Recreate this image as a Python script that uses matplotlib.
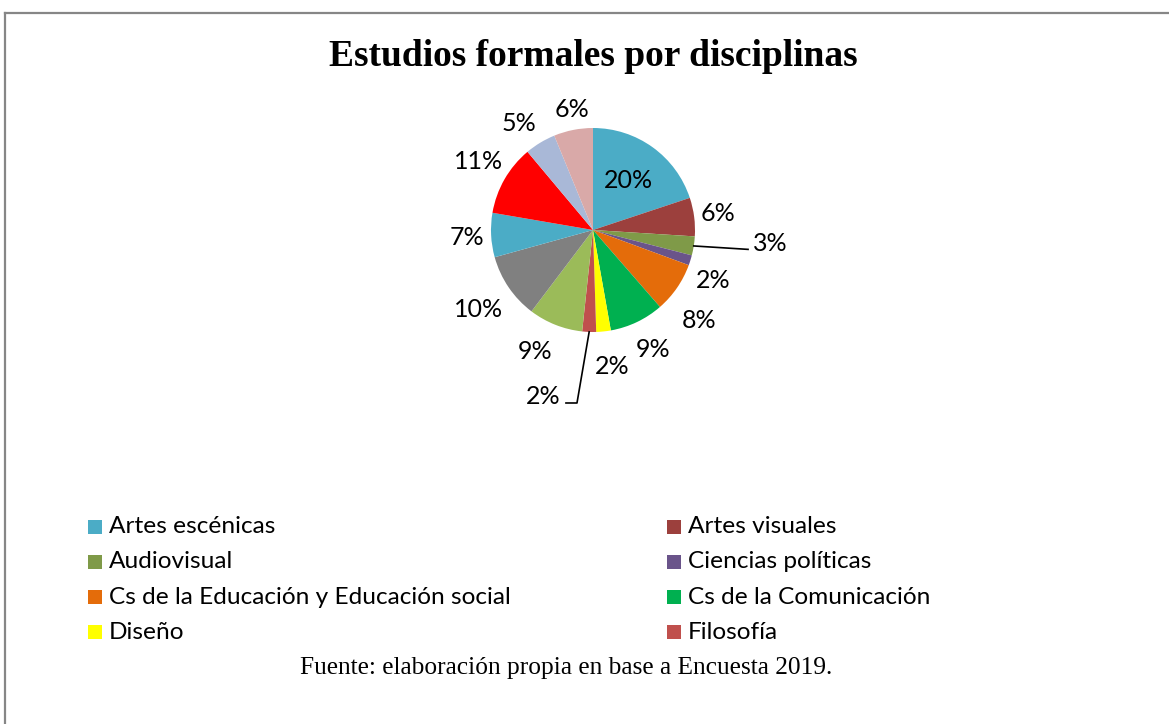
import numpy as np
import matplotlib.pyplot as plt
from matplotlib.patches import Rectangle
from matplotlib.lines import Line2D

# slice shares (%), clockwise from 12 o'clock
values = [19.9, 6.1, 3.0, 1.6, 8.0, 8.6, 2.3, 2.2, 8.6, 10.4, 7.0, 11.2, 4.9, 6.2]
colors = ['#4BACC6', '#9C403D', '#7F9A48', '#6A548A', '#E46C0A', '#00B050',
          '#FFFF00', '#C0504D', '#9BBB59', '#808080', '#4BACC6', '#FF0000',
          '#A9B8D7', '#D9A9A8']
# only the first 8 show up in the legend
legend_names = ['Artes escénicas', 'Artes visuales', 'Audiovisual', 'Ciencias políticas',
                'Cs de la Educación y Educación social', 'Cs de la Comunicación',
                'Diseño', 'Filosofía']

# label placement (like Excel "best fit"): radial distance and angle nudge per slice
lab_dist = [0.6, 1.24, None, 1.28, 1.37, 1.31, 1.35, None, 1.32, 1.37, 1.24, 1.31, 1.27, 1.2]
lab_shift = [0, 0, 0, -5.5, -5.8, 1.3, 1.9, 0, -4, 0.5, 0.6, -1, 3.7, -1.2]

W, H = 1169, 724
fig = plt.figure(figsize=(W / 100, H / 100), dpi=100)
fig.patch.set_facecolor('white')

# pie centre (593,230) px, radius 102 px
cx, cy, R = 593, 230, 102
ext = 2.0
ax = fig.add_axes([(cx - ext * R) / W, (H - cy - ext * R) / H, 2 * ext * R / W, 2 * ext * R / H])

wedges, _ = ax.pie(values, colors=colors, startangle=90, counterclock=False,
                   radius=1, wedgeprops=dict(linewidth=0))
ax.set_xlim(-ext, ext)
ax.set_ylim(-ext, ext)
ax.axis('off')

lab_font = dict(family='Lato', fontsize=18, color='black')
total = sum(values)
for i, (w, v) in enumerate(zip(wedges, values)):
    txt = '%d%%' % round(100 * v / total)
    mid_deg = (w.theta1 + w.theta2) / 2
    mid = np.deg2rad(mid_deg)
    ex, ey = np.cos(mid), np.sin(mid)
    if i == 2:
        # leader line to the right
        tx, ty = 1.52, -0.19
        ax.plot([ex, tx], [ey, ty], color='black', lw=1.2)
        ax.text(tx + 0.05, ty + 0.06, txt, ha='left', va='center', **lab_font)
    elif i == 7:
        # leader line going down then left
        ax.plot([ex, -0.157, -0.265], [ey, -1.696, -1.696], color='black', lw=1.2)
        ax.text(-0.32, -1.63, txt, ha='right', va='center', **lab_font)
    else:
        a = np.deg2rad(mid_deg + lab_shift[i])
        d = lab_dist[i]
        ax.text(d * np.cos(a), d * np.sin(a), txt, ha='center', va='center', **lab_font)

# title and source
fig.text(593 / W, 1 - 56 / H, 'Estudios formales por disciplinas', ha='center', va='center',
         family='Liberation Serif', fontweight='bold', fontsize=27)
fig.text(566 / W, 1 - 668 / H, 'Fuente: elaboración propia en base a Encuesta 2019.',
         ha='center', va='center', family='Liberation Serif', fontsize=18.3)

# legend drawn by hand, 2 columns
col_x = [88, 667]
row_y = [526.5, 561.8, 597, 632.3]
sq = 14
for k, name in enumerate(legend_names):
    x0 = col_x[k % 2]
    y0 = row_y[k // 2]
    fig.add_artist(Rectangle((x0 / W, 1 - (y0 + sq / 2) / H), sq / W, sq / H,
                             transform=fig.transFigure, facecolor=colors[k], edgecolor='none'))
    fig.text((x0 + 21) / W, 1 - y0 / H, name, ha='left', va='center',
             family='Lato', fontsize=17.6, color='black')

# chart border (top and left edges visible)
fig.add_artist(Line2D([5 / W, 1], [1 - 13 / H, 1 - 13 / H], transform=fig.transFigure,
                      color='#868686', lw=1.6))
fig.add_artist(Line2D([5 / W, 5 / W], [0, 1 - 13 / H], transform=fig.transFigure,
                      color='#868686', lw=1.6))

fig.savefig('out.png', dpi=100)
